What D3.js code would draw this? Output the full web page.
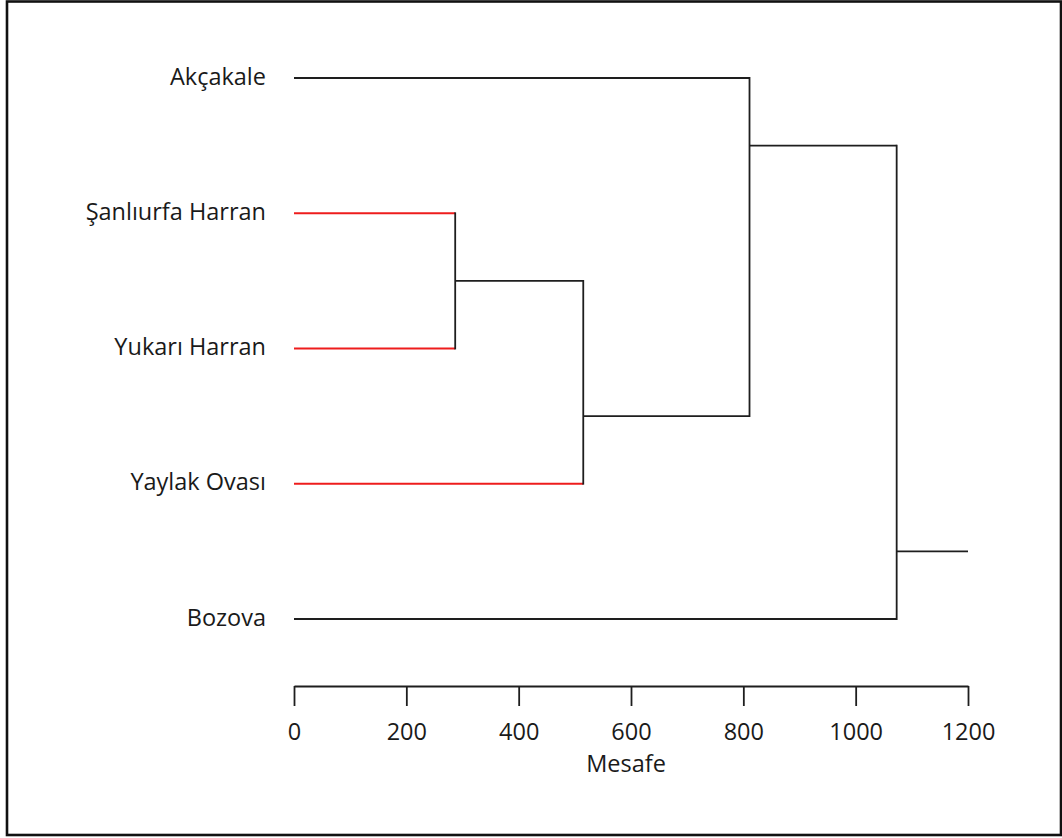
<!DOCTYPE html>
<html>
<head>
<meta charset="utf-8">
<script src="https://cdn.jsdelivr.net/npm/d3@7"></script>
<style>
  html, body { margin: 0; padding: 0; background: #fff; }
  svg text { font-family: "Open Sans", "Noto Sans", sans-serif; fill: #1a1a1a; }
</style>
</head>
<body>
<svg id="chart" width="1062" height="838"></svg>
<script>
// Leaves, top to bottom
const leaves = ["Akçakale", "Şanlıurfa Harran", "Yukarı Harran", "Yaylak Ovası", "Bozova"];
// Leaves belonging to the highlighted cluster
const highlighted = ["Şanlıurfa Harran", "Yukarı Harran", "Yaylak Ovası"];
// Merge steps: negative = leaf index (1-based), positive = earlier merge (1-based)
const mergeLeft  = [-2, -4, -1, 3];
const mergeRight = [-3,  1,  2, -5];
const mergeHeight = [287, 515, 811, 1073];
// Row position (in leaf-index units) where each merge's outgoing branch sits
const mergeRow = [1.5, 2.5, 0.5, 3.5];
// Axis
const axisTicks = [0, 200, 400, 600, 800, 1000, 1200];
const axisMax = 1200;
const axisTitle = "Mesafe";

const svg = d3.select("#chart");

// Frame
svg.append("rect")
  .attr("x", 7).attr("y", 1.5)
  .attr("width", 1054).attr("height", 833.5)
  .attr("fill", "none").attr("stroke", "#111").attr("stroke-width", 2.6);

const x = d3.scaleLinear().domain([0, axisMax]).range([294, 968]);
const y = d3.scaleLinear().domain([0, leaves.length - 1]).range([78, 619]);

const black = "#1e1e1e";
const red = "#ee1c1c";
const lw = 1.8;
const fs = 23.5;

// Resolve a node reference to its {height, row}
function nodeOf(ref) {
  if (ref < 0) return { h: 0, row: -ref - 1, leaf: leaves[-ref - 1] };
  return { h: mergeHeight[ref - 1], row: mergeRow[ref - 1] };
}

const g = svg.append("g");

mergeHeight.forEach((h, i) => {
  const a = nodeOf(mergeLeft[i]);
  const b = nodeOf(mergeRight[i]);
  // horizontal branches from each child to this merge
  [a, b].forEach(c => {
    g.append("line")
      .attr("x1", x(c.h)).attr("x2", x(h))
      .attr("y1", y(c.row)).attr("y2", y(c.row))
      .attr("stroke", c.leaf && highlighted.includes(c.leaf) ? red : black)
      .attr("stroke-width", lw);
  });
  // vertical joining bar
  g.append("line")
    .attr("x1", x(h)).attr("x2", x(h))
    .attr("y1", y(a.row)).attr("y2", y(b.row))
    .attr("stroke", black).attr("stroke-width", lw)
    .attr("stroke-linecap", "square");
});

// Root stub out to the end of the axis
const last = mergeHeight.length - 1;
g.append("line")
  .attr("x1", x(mergeHeight[last])).attr("x2", x(axisMax))
  .attr("y1", y(mergeRow[last])).attr("y2", y(mergeRow[last]))
  .attr("stroke", black).attr("stroke-width", lw);

// Leaf labels
svg.append("g").selectAll("text")
  .data(leaves)
  .join("text")
  .attr("x", 266)
  .attr("y", (d, i) => y(i))
  .attr("dy", 6.5)
  .attr("text-anchor", "end")
  .attr("font-size", fs)
  .text(d => d);

// Distance axis
const axis = svg.append("g")
  .attr("transform", "translate(0,686)")
  .call(d3.axisBottom(x).tickValues(axisTicks).tickFormat(d3.format("d"))
    .tickSize(20).tickSizeOuter(0).tickPadding(17));
axis.select(".domain").attr("stroke", black).attr("stroke-width", lw);
axis.selectAll(".tick line").attr("stroke", black).attr("stroke-width", lw);
axis.selectAll(".tick text")
  .attr("font-size", fs)
  .attr("font-family", "'Open Sans', 'Noto Sans', sans-serif")
  .attr("fill", "#1a1a1a");

svg.append("text")
  .attr("x", 626).attr("y", 772)
  .attr("text-anchor", "middle")
  .attr("font-size", fs)
  .text(axisTitle);
</script>
</body>
</html>
